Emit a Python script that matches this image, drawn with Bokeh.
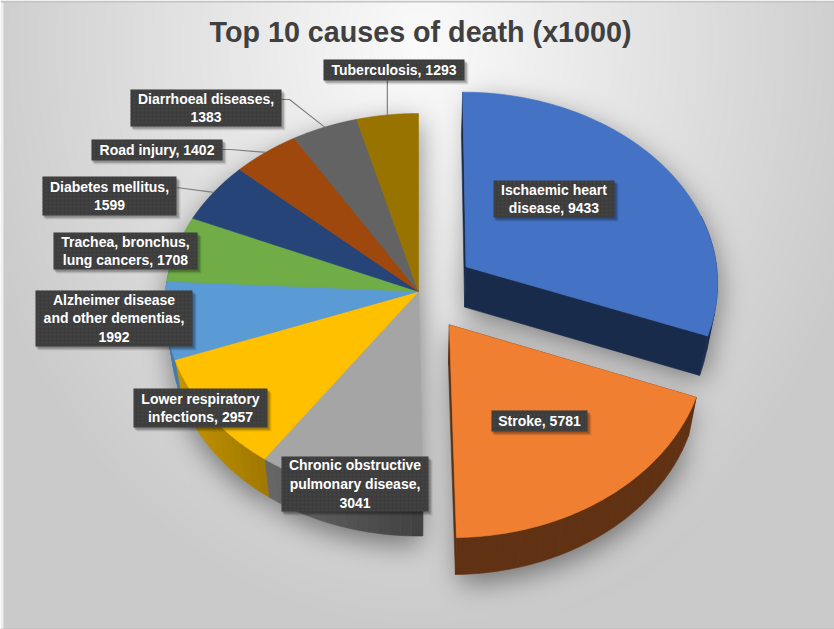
import numpy as np
from bokeh.embed import file_html
from bokeh.models import ColumnDataSource, Range1d
from bokeh.plotting import figure
from bokeh.resources import INLINE
from bokeh.core.properties import value

# Deaths per cause, thousands
categories = ["Ischaemic heart\ndisease", "Stroke", "Chronic obstructive\npulmonary disease",
              "Lower respiratory\ninfections", "Alzheimer disease\nand other dementias",
              "Trachea, bronchus,\nlung cancers", "Diabetes mellitus", "Road injury",
              "Diarrhoeal diseases", "Tuberculosis"]
deaths = [9433, 5781, 3041, 2957, 1992, 1708, 1599, 1402, 1383, 1293]
separators = [", ", ", ", ",\n", ", ", ",\n", ", ", ",\n", ", ", ",\n", ", "]
colors = ["#4472C4", "#F07F31", "#A5A5A5", "#FFC000", "#5B9BD5",
          "#70AD47", "#264478", "#9E480E", "#636363", "#997300"]
explode = [0.23, 0.21, 0, 0, 0, 0, 0, 0, 0, 0]
title = "Top 10 causes of death (x1000)"

W, H = 834, 629
CX, CY, RX, RY, K = 418.0, 291.0, 253.0, 191.4, 0.0753


def project(u, v):
    """Tilted-disc perspective: disc coordinates to screen pixels."""
    w = 1 + K * v
    return CX + RX * u / w, CY - RY * v / w


def lower(x, y):
    """The same point on the underside of the pie."""
    return CX + 0.972 * (x - CX), CY + 40 + 0.988 * (y - CY)


def slice_point(t, e, mid):
    return project(e * np.sin(mid) + np.sin(t), e * np.cos(mid) + np.cos(t))


def shade(hex_color, f):
    rgb = [int(hex_color[i:i + 2], 16) for i in (1, 3, 5)]
    return "#%02x%02x%02x" % tuple(int(c * f) for c in rgb)


totals = np.cumsum([0] + deaths) / sum(deaths) * 2 * np.pi

tops, faces, rims = [], [], []
for i, (a0, a1) in enumerate(zip(totals[:-1], totals[1:])):
    mid = (a0 + a1) / 2
    e = explode[i]
    ts = np.linspace(a0, a1, 91)
    ax, ay = project(e * np.sin(mid), e * np.cos(mid))
    xs, ys = slice_point(ts, e, mid)
    tops.append((np.r_[ax, xs], np.r_[ay, ys], colors[i]))
    lax, lay = lower(ax, ay)
    lxs, lys = lower(xs, ys)
    if e > 0:
        for j in (0, -1):
            faces.append(([ax, xs[j], lxs[j], lax], [ay, ys[j], lys[j], lay], shade(colors[i], 0.38)))
    # Side wall split into short pieces so its shade can follow the angle
    for j in range(0, len(ts) - 1, 6):
        tm = ts[j + 3]
        if np.cos(tm) > 0.25:
            continue
        f = 0.40 + 0.40 * np.clip(-np.sin(tm), 0, 1)
        rx = np.r_[xs[j:j + 7], lxs[j:j + 7][::-1]]
        ry = np.r_[ys[j:j + 7], lys[j:j + 7][::-1]]
        rims.append((rx, ry, shade(colors[i], f)))


def blur(a, r, passes=3):
    for axis in (0, 1):
        for _ in range(passes):
            c = np.cumsum(np.insert(a, 0, 0, axis=axis), axis=axis)
            n = a.shape[axis]
            lo = np.clip(np.arange(n) - r, 0, n)
            hi = np.clip(np.arange(n) + r + 1, 0, n)
            a = (np.take(c, hi, axis=axis) - np.take(c, lo, axis=axis)) / (2 * r + 1)
    return a


def polygon_mask(px, py):
    px, py = np.asarray(px)[::3], np.asarray(py)[::3]
    gy, gx = np.mgrid[0:H:2, 0:W:2]
    inside = np.zeros(gx.shape, bool)
    qx, qy = np.roll(px, 1), np.roll(py, 1)
    for x0, y0, x1, y1 in zip(px, py, qx, qy):
        if y0 == y1:
            continue
        hit = ((y0 > gy) != (y1 > gy)) & (gx < (x1 - x0) * (gy - y0) / (y1 - y0) + x0)
        inside ^= hit
    return inside


# Page background: soft radial wash plus a blurred drop shadow under the pie
gy, gx = np.mgrid[0:H, 0:W]
t = np.sqrt(((gx - 420) / 470.0) ** 2 + ((gy - 45) / 590.0) ** 2)
gray = 251 - 49 * np.clip(t, 0, 1)
gray[gx < 3] = 238
gray[gy < 2] = 196
gray[gy > 627] = 190

silhouette = np.zeros((H // 2 + H % 2, W // 2 + W % 2))
for px, py, _ in tops:
    silhouette = np.maximum(silhouette, polygon_mask(px, py))
    lpx, lpy = lower(np.asarray(px), np.asarray(py))
    silhouette = np.maximum(silhouette, polygon_mask(lpx, lpy))
soft = blur(np.roll(silhouette, 4, axis=0), 6)
soft = np.kron(soft, np.ones((2, 2)))[:H, :W]
inside_page = (gx >= 3) & (gy >= 2)
gray = gray * (1 - 0.45 * soft * inside_page)

rgba = np.zeros((H, W), dtype=np.uint32)
view = rgba.view(np.uint8).reshape(H, W, 4)
view[..., 0] = view[..., 1] = view[..., 2] = gray.astype(np.uint8)
view[..., 3] = 255

p = figure(width=W, height=H, output_backend="svg", toolbar_location=None,
           x_range=Range1d(0, W), y_range=Range1d(0, H), min_border=0)
p.axis.visible = False
p.grid.visible = False
p.outline_line_color = None


def Y(y):
    return H - np.asarray(y, dtype=float)


p.image_rgba(image=[rgba[::-1]], x=0, y=0, dw=W, dh=H)


def draw(polys):
    src = ColumnDataSource(dict(xs=[list(a) for a, _, _ in polys],
                                ys=[list(Y(b)) for _, b, _ in polys],
                                color=[c for _, _, c in polys]))
    p.patches("xs", "ys", source=src, fill_color="color", line_color="color", line_width=0.6)


draw(faces)
draw(rims)
draw(tops)

# Label boxes in pixel coordinates: left, top, right, bottom
boxes = [(493, 180, 614, 217), (491, 410, 587, 431), (281, 456, 428, 511), (133, 388, 267, 427),
         (35, 290, 192, 346), (53, 232, 197, 269), (42, 176, 176, 215), (91, 139, 222, 160),
         (130, 89, 281, 126), (323, 59, 464, 80)]

# Leader lines run from a box to the middle of the rim of its slice
leader_x, leader_y = [], []
for i in (6, 7, 8, 9):
    mid = (totals[i] + totals[i + 1]) / 2
    ex, ey = slice_point(mid, 0, mid)
    l, tp, r, b = boxes[i]
    if i == 9:
        leader_x.append([ex, ex])
        leader_y.append(list(Y([b, ey])))
    elif i == 6:
        leader_x.append([r, ex])
        leader_y.append(list(Y([tp + 11, ey])))
    else:
        leader_x.append([r, r + 8, ex])
        leader_y.append(list(Y([tp + 10, tp + 10, ey])))
p.multi_line(leader_x, leader_y, line_color="#7f7f7f", line_width=1.2)

for off, alpha in ((4, 0.08), (3, 0.12), (2, 0.18)):
    p.quad(left=[b[0] + off - 1 for b in boxes], right=[b[2] + off for b in boxes],
           top=list(Y([b[1] + off for b in boxes])), bottom=list(Y([b[3] + off for b in boxes])),
           fill_color="#000000", fill_alpha=alpha, line_color=None)
p.quad(left=[b[0] for b in boxes], right=[b[2] for b in boxes],
       top=list(Y([b[1] for b in boxes])), bottom=list(Y([b[3] for b in boxes])),
       fill_color="#3d3d3d", line_color=None,
       hatch_pattern="dot", hatch_color="#484848", hatch_scale=4, hatch_alpha=0.7)

labels = [f"{c}{s}{d}" for c, s, d in zip(categories, separators, deaths)]
p.text(x=[(b[0] + b[2]) / 2 for b in boxes], y=list(Y([(b[1] + b[3]) / 2 for b in boxes])),
       text=labels, text_color="#ffffff", text_font=value("Liberation Sans"),
       text_font_style="bold", text_font_size="14px", text_align="center",
       text_baseline="middle", text_line_height=1.18)

p.text(x=[420], y=list(Y([31])), text=[title], text_color="#404040",
       text_font=value("Liberation Sans"), text_font_style="bold", text_font_size="28.7px",
       text_align="center", text_baseline="middle")

open("out.html", "w").write(file_html(p, INLINE))
